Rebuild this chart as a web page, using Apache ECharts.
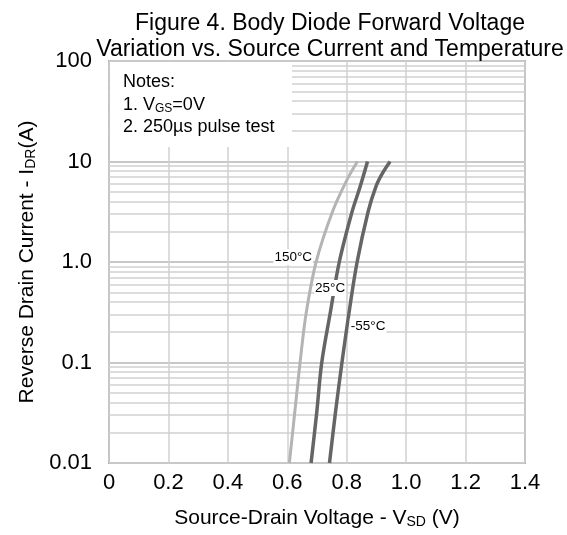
<!DOCTYPE html>
<html>
<head>
<meta charset="utf-8">
<script src="https://cdn.jsdelivr.net/npm/echarts@6/dist/echarts.min.js"></script>
<style>
  html, body { margin: 0; padding: 0; background: #fff; }
  #chart { width: 567px; height: 535px; }
</style>
</head>
<body>
<div id="chart"></div>
<script>
// curves: [V_SD (V), I_DR (A)]
var curve150 = [[0.607, 0.01], [0.625, 0.0316], [0.643, 0.1], [0.664, 0.316], [0.697, 1],
  [0.752, 3.16], [0.80, 6.5], [0.836, 10]];
var curve25 = [[0.68, 0.01], [0.699, 0.0316], [0.716, 0.1], [0.745, 0.316], [0.775, 1],
  [0.818, 3.16], [0.845, 5.6], [0.87, 10]];
var curveM55 = [[0.742, 0.01], [0.762, 0.0316], [0.784, 0.1], [0.808, 0.316], [0.835, 1],
  [0.872, 3.16], [0.898, 5.6], [0.92, 7.6], [0.946, 10]];

var curveNames = ['150°C', '25°C', '-55°C'];
var labelSpots = [[0.62, 1.12], [0.744, 0.55], [0.872, 0.23]];

var yTicks = {100: '100', 10: '10', 1: '1.0', 0.1: '0.1', 0.01: '0.01'};
var minorLines = [];
[0.01, 0.1, 1, 10].forEach(function (d) {
  for (var k = 2; k <= 9; k++) minorLines.push(+(d * k).toPrecision(3));
});

var FONT = 'Liberation Sans, Arial, sans-serif';

var myChart = echarts.init(document.getElementById('chart'));

function curveSeries(name, data, color, width, spot) {
  return {
    name: name,
    type: 'line',
    data: data,
    smooth: 0.35,
    showSymbol: false,
    silent: true,
    z: 4,
    lineStyle: { color: color, width: width },
    markPoint: {
      symbol: 'circle',
      symbolSize: 0,
      silent: true,
      z: 6,
      data: [{ coord: spot }],
      label: {
        show: true,
        formatter: name,
        color: '#000',
        fontFamily: FONT,
        fontSize: 13.5,
        backgroundColor: '#fff',
        padding: [1, 1]
      }
    }
  };
}

var option = {
  backgroundColor: '#fff',
  animation: false,
  title: {
    text: 'Figure 4. Body Diode Forward Voltage\nVariation vs. Source Current and Temperature',
    left: 325,
    textAlign: 'center',
    top: 6,
    textStyle: { fontFamily: FONT, fontSize: 23, fontWeight: 'normal', color: '#000', lineHeight: 26 }
  },
  grid: {
    left: 109, right: 42, top: 61, bottom: 72,
    show: true, borderColor: '#a8a8a8', borderWidth: 2
  },
  xAxis: {
    type: 'value',
    min: 0, max: 1.4, interval: 0.2,
    name: 'Source-Drain Voltage - V{sub|SD} (V)',
    nameLocation: 'middle',
    nameGap: 44,
    nameTextStyle: {
      fontFamily: FONT, fontSize: 21, color: '#000',
      rich: { sub: { fontFamily: FONT, fontSize: 14, color: '#000', padding: [8, 0, 0, 0] } }
    },
    axisLine: { show: false },
    axisTick: { show: false },
    axisLabel: {
      margin: 9,
      fontFamily: FONT, fontSize: 22, color: '#000',
      formatter: function (v) { return v === 0 ? '0' : v.toFixed(1); }
    },
    splitLine: { show: true, lineStyle: { color: '#d0d0d0', width: 1.5 } }
  },
  yAxis: {
    type: 'log',
    logBase: 10,
    min: 0.01, max: 100,
    name: 'Reverse Drain Current - I{sub|DR}(A)',
    nameLocation: 'middle',
    nameGap: 70,
    nameRotate: 90,
    nameTextStyle: {
      fontFamily: FONT, fontSize: 21, color: '#000',
      rich: { sub: { fontFamily: FONT, fontSize: 14, color: '#000', padding: [8, 0, 0, 0] } }
    },
    axisLine: { show: false },
    axisTick: { show: false },
    axisLabel: {
      margin: 17,
      fontFamily: FONT, fontSize: 22, color: '#000',
      formatter: function (v) {
        var key = +v.toPrecision(3);
        return yTicks[key] !== undefined ? yTicks[key] : '';
      }
    },
    splitLine: { show: true, lineStyle: { color: '#c8c8c8', width: 2 } }
  },
  graphic: [{
    type: 'rect',
    left: 110, top: 62,
    z: 20,
    shape: { x: 0, y: 0, width: 182, height: 85 },
    style: { fill: '#fff' }
  }, {
    type: 'text',
    left: 123, top: 71,
    z: 21,
    style: {
      text: 'Notes:\n1. V{sub|GS}=0V\n2. 250µs pulse test',
      fontFamily: FONT, fontSize: 18, fill: '#000', lineHeight: 22.5,
      rich: {
        sub: { fontFamily: FONT, fontSize: 12, fill: '#000', padding: [7, 0, 0, 0], lineHeight: 22.5 }
      }
    }
  }],
  series: [
    {
      name: 'minor grid',
      type: 'line',
      data: [],
      silent: true,
      z: 1,
      markLine: {
        silent: true,
        symbol: 'none',
        z: 1,
        animation: false,
        label: { show: false },
        lineStyle: { color: '#d0d0d0', width: 1.5, type: 'solid' },
        data: minorLines.map(function (v) { return { yAxis: v }; })
      }
    },
    curveSeries(curveNames[0], curve150, '#b4b4b4', 3, labelSpots[0]),
    curveSeries(curveNames[1], curve25, '#656565', 3.5, labelSpots[1]),
    curveSeries(curveNames[2], curveM55, '#656565', 3.5, labelSpots[2])
  ]
};

myChart.setOption(option);
</script>
</body>
</html>
